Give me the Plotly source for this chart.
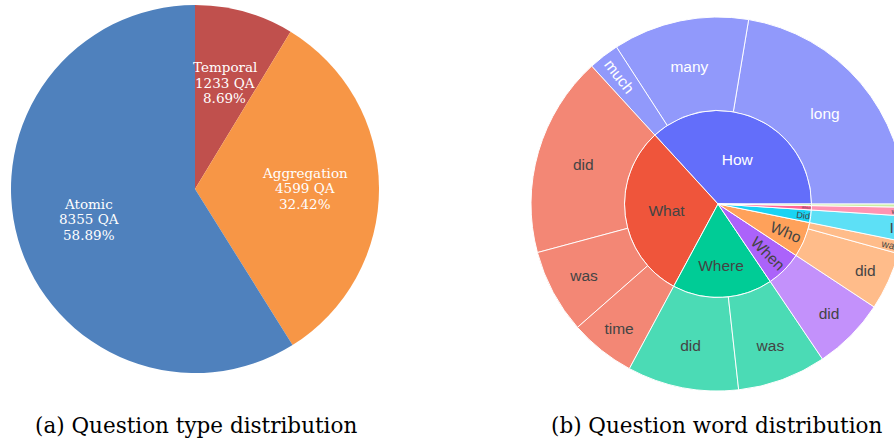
import math
import plotly.graph_objects as go

# ---------- data ----------
pie_labels = ["Temporal", "Aggregation", "Atomic"]
pie_values = [1233, 4599, 8355]
pie_colors = ["#C0504D", "#F79646", "#4F81BD"]

sb_ids = ["How", "What", "Where", "When", "Who", "Did", "Which", "Is",
          "How/long", "How/many", "How/much",
          "What/did", "What/was", "What/time",
          "Where/did", "Where/was",
          "When/did",
          "Who/did", "Who/was",
          "Did/I",
          "Which/was",
          "Is/there"]
sb_labels = ["How", "What", "Where", "When", "Who", "Did", "Which", "Is",
             "long", "many", "much",
             "did", "was", "time",
             "did", "was",
             "did",
             "did", "was",
             "I",
             "was",
             "there"]
sb_parents = ["", "", "", "", "", "", "", "",
              "How", "How", "How",
              "What", "What", "What",
              "Where", "Where",
              "When",
              "Who", "Who",
              "Did",
              "Which",
              "Is"]
leaf_values = {
    "How/long": 3172, "How/many": 1667, "How/much": 378,
    "What/did": 2463, "What/was": 1033, "What/time": 804,
    "Where/did": 1364, "Where/was": 1088,
    "When/did": 891,
    "Who/did": 709, "Who/was": 154,
    "Did/I": 307,
    "Which/was": 106,
    "Is/there": 39,
}

captions = ["(a) Question type distribution", "(b) Question word distribution"]

# ---------- build ----------
sb_values = []
for i in sb_ids:
    if i in leaf_values:
        sb_values.append(leaf_values[i])
    else:
        sb_values.append(sum(v for k, v in leaf_values.items() if k.split("/")[0] == i))

W, H = 912, 442
PIE_CX, PIE_CY, PIE_R = 195, 189, 184   # pie geometry in pixels (domain below)

fig = go.Figure()
fig.add_trace(go.Pie(
    labels=pie_labels, values=pie_values, sort=False, direction="clockwise",
    rotation=0,
    marker=dict(colors=pie_colors, line=dict(width=0)),
    textinfo="none",
    domain=dict(x=[(PIE_CX - PIE_R) / W, (PIE_CX + PIE_R) / W],
                y=[(H - PIE_CY - PIE_R) / H, (H - PIE_CY + PIE_R) / H]),
    hoverinfo="label+value+percent",
))

# pie labels placed at 0.6 radius on each slice's bisector (matplotlib-style autopct)
total = sum(pie_values)
cum = 0
for lab, val in zip(pie_labels, pie_values):
    mid = (cum + val / 2) / total
    cum += val
    ang = math.radians(90 - 360 * mid)
    cx = PIE_CX + 0.6 * PIE_R * math.cos(ang)
    cy = PIE_CY - 0.6 * PIE_R * math.sin(ang)
    lines = [lab, f"{val} QA", f"{100 * val / total:.2f}%"]
    for k, line in enumerate(lines):
        py = cy + (k - 1) * 15.3
        fig.add_annotation(text=line, x=cx / W, y=(H - py) / H, xref="paper", yref="paper",
                           showarrow=False, xanchor="center", yanchor="middle",
                           font=dict(family="DejaVu Serif", size=13.5, color="white"))

fig.add_trace(go.Sunburst(
    ids=sb_ids, labels=sb_labels, parents=sb_parents, values=sb_values,
    branchvalues="total",
    textfont=dict(family="Liberation Sans, Arial", size=15.5),
    domain=dict(x=[531 / W, 905 / W], y=[(H - 391) / H, (H - 17) / H]),
))

fig.add_annotation(text=captions[0], x=196 / W, y=(H - 425) / H, xref="paper", yref="paper",
                   showarrow=False, xanchor="center", yanchor="middle",
                   font=dict(family="DejaVu Serif", size=21.5, color="black"))
fig.add_annotation(text=captions[1], x=716.5 / W, y=(H - 425) / H, xref="paper", yref="paper",
                   showarrow=False, xanchor="center", yanchor="middle",
                   font=dict(family="DejaVu Serif", size=21.5, color="black"))

fig.update_layout(width=W, height=H, margin=dict(l=0, r=0, t=0, b=0),
                  paper_bgcolor="white", plot_bgcolor="white", showlegend=False)

fig.write_html("out.html", config={"displayModeBar": False},
               post_script="document.body.style.margin='0px';document.body.style.overflow='hidden';")
